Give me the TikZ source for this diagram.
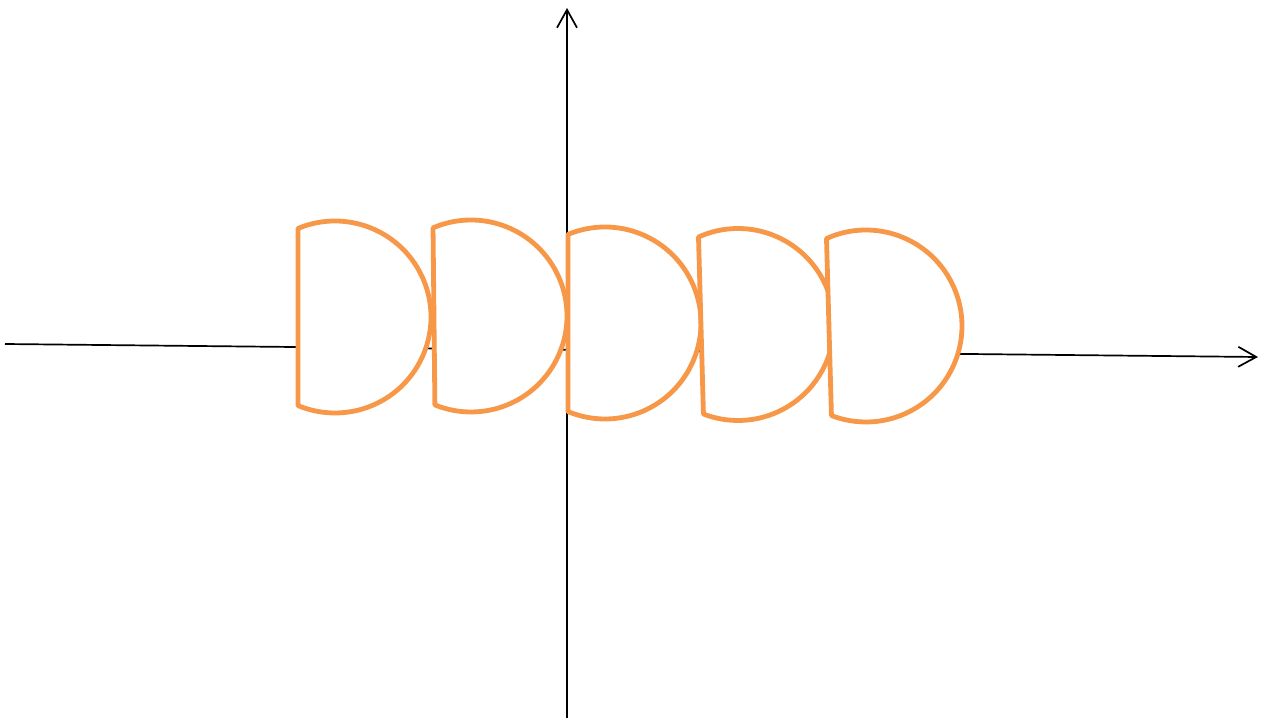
\documentclass[tikz,border=0pt]{standalone}
\usetikzlibrary{arrows.meta}
\definecolor{dorange}{RGB}{247,152,72}
\tikzset{
  axis/.style={draw=black, line width=0.85pt, -{Straight Barb[length=9pt,width=10pt,line width=0.85pt]}},
  dshape/.style={draw=dorange, fill=white, line width=2.4pt, line join=round},
}
\newcommand{\dsh}[3]{%
  \begin{scope}[shift={(#1,#2)}, rotate=#3]
    \path[dshape] (112.7:96) arc[start angle=112.7, end angle=-112.7, radius=96] -- cycle;
  \end{scope}}
\begin{document}
\begin{tikzpicture}[x=0.5pt,y=0.5pt]
  \useasboundingbox (0,0) rectangle (1266,720);
  \coordinate (xs) at (5,376);
  \coordinate (xe) at (1258,363);
  \coordinate (ys) at (567,2);
  \coordinate (ye) at (567,712);
  \draw[axis] (xs) -- (xe);
  \draw[axis] (ys) -- (ye);
  \dsh{335}{403}{0}
  \dsh{471}{404}{0.6}
  \dsh{605}{397}{0}
  \dsh{738}{395.5}{1.6}
  \dsh{866}{394}{1.6}
\end{tikzpicture}
\end{document}
